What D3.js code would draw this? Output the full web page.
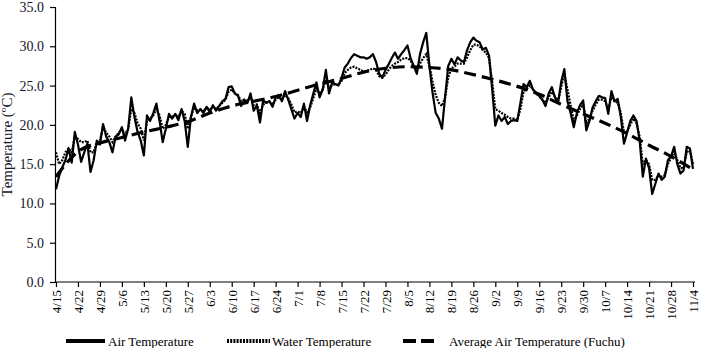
<!DOCTYPE html>
<html>
<head>
<meta charset="utf-8">
<script src="https://cdnjs.cloudflare.com/ajax/libs/d3/7.8.5/d3.min.js"></script>
<style>
  body { margin: 0; background: #fff; }
  text { font-family: "Liberation Serif", "Times New Roman", serif; fill: #000; }
</style>
</head>
<body>
<svg id="chart" width="702" height="348"></svg>
<script>
// 每週刻度標籤
var tickLabels = ["4/15","4/22","4/29","5/6","5/13","5/20","5/27","6/3","6/10","6/17","6/24",
  "7/1","7/8","7/15","7/22","7/29","8/5","8/12","8/19","8/26","9/2","9/9","9/16","9/23",
  "9/30","10/7","10/14","10/21","10/28","11/4"];

// 日平均氣溫 4/15 ~ 11/4
var airTemp = [
  11.8,13.5,14.6,15.5,17.0,15.2,19.1,17.5,15.3,16.5,17.6,14.0,15.5,18.0,17.5,20.1,
  18.5,17.8,16.5,18.5,18.8,19.7,18.0,19.5,23.5,21.0,19.1,18.0,16.1,21.2,20.5,21.5,
  22.7,20.5,17.8,19.5,21.4,20.8,21.4,20.6,22.0,20.5,17.2,21.0,22.7,21.5,22.0,21.5,
  22.3,21.6,22.5,21.8,22.4,23.0,23.3,24.8,24.9,24.0,23.7,22.4,23.2,22.8,24.0,21.8,
  22.5,20.3,23.1,22.8,23.0,22.3,23.5,23.8,23.0,24.3,23.2,22.0,20.8,21.5,21.0,22.7,
  20.5,22.5,24.0,25.4,23.5,24.5,27.0,24.0,25.4,25.2,25.0,26.0,27.3,27.8,28.5,29.0,
  28.8,28.6,28.6,28.4,28.6,29.0,28.0,26.5,26.0,27.0,27.7,28.5,29.2,28.4,29.0,29.5,
  30.1,28.5,27.5,26.5,29.0,30.5,31.7,27.5,24.1,21.5,20.8,19.5,23.5,27.5,28.4,27.7,
  28.6,28.2,28.0,29.5,30.5,31.1,30.7,30.5,29.6,29.8,28.8,24.5,19.9,21.2,20.5,21.0,
  20.1,20.5,20.6,20.5,22.8,25.2,24.8,25.6,24.5,24.1,23.7,23.2,22.4,24.0,24.8,23.5,
  22.8,25.5,27.1,23.0,21.5,19.7,21.5,22.5,23.1,19.3,20.5,22.2,23.0,23.7,23.5,23.4,
  21.4,24.3,23.0,23.3,21.0,17.6,19.0,20.5,21.2,20.5,18.0,13.4,15.7,14.5,11.2,12.5,
  13.8,13.0,13.4,15.5,16.0,17.2,15.0,13.8,14.2,17.2,17.0,14.4
];

// 日平均水溫
var waterTemp = [
  16.5,15.0,15.5,16.5,17.0,16.5,18.5,18.2,17.8,17.8,18.0,16.5,16.5,17.8,18.0,19.8,
  19.0,18.5,17.8,18.5,19.0,19.5,18.8,19.5,22.0,21.5,20.2,19.5,18.0,20.5,20.8,21.2,
  22.0,21.2,19.5,20.0,21.0,21.0,21.3,21.0,21.8,21.4,19.5,21.0,22.2,21.8,22.0,21.8,
  22.2,21.9,22.3,22.0,22.4,22.8,23.2,24.2,24.5,24.0,23.8,23.0,23.2,23.0,23.6,22.5,
  22.6,21.5,22.6,22.8,23.0,22.6,23.2,23.5,23.2,23.8,23.4,22.6,21.6,21.7,21.5,22.3,
  21.6,22.2,23.4,24.6,24.0,24.5,25.8,24.8,25.0,25.2,25.1,25.6,26.6,27.0,27.3,27.4,
  27.2,27.0,26.8,26.9,27.0,27.2,27.0,26.2,26.0,26.4,27.0,27.5,27.8,28.0,28.3,28.5,
  28.5,28.2,27.4,27.2,27.8,28.5,29.0,27.5,25.5,23.8,22.8,22.4,23.5,26.0,27.2,27.4,
  27.8,27.8,27.8,28.6,29.5,30.2,30.2,30.0,29.5,29.2,28.5,25.5,22.0,21.8,21.5,21.3,
  21.0,20.8,20.8,20.6,22.0,24.2,24.6,25.0,24.5,24.0,23.6,23.2,22.8,23.5,24.2,23.6,
  23.0,24.8,26.5,24.5,22.5,20.5,21.2,22.0,22.6,20.2,20.8,21.8,22.6,23.2,23.2,23.0,
  22.0,23.5,23.0,22.8,21.5,19.0,19.2,20.0,20.8,20.2,18.5,15.0,15.5,15.0,13.0,13.0,
  13.6,13.4,13.6,15.0,15.8,16.6,15.5,14.5,14.5,16.5,16.8,15.0
];

// 府中平年氣溫(每週)
var avgTemp = [13.4,16.6,17.7,18.4,19.1,19.7,20.4,21.5,22.4,23.0,23.6,24.4,25.2,25.9,26.7,
  27.2,27.4,27.3,27.0,26.4,25.7,24.9,23.9,22.6,21.4,20.2,18.9,17.4,16.0,14.3];

var svg = d3.select("#chart");
var mLeft = 55, mRight = 695, mTop = 7, mBottom = 282;

var x = d3.scaleLinear().domain([0, airTemp.length - 1]).range([mLeft + 1, mRight - 2]);
var y = d3.scaleLinear().domain([0, 35]).range([mBottom, mTop]);

// 軸
var yAxis = d3.axisLeft(y).tickValues(d3.range(0, 36, 5))
  .tickFormat(d3.format(".1f")).tickSizeOuter(0).tickSize(5).tickPadding(6);
svg.append("g").attr("transform", "translate(" + mLeft + ",0)").call(yAxis)
  .call(function(g) { g.selectAll("text").style("font-size", "14px").style("fill", "#14142a"); });

var xAxis = d3.axisBottom(x).tickValues(tickLabels.map(function(d, i) { return i * 7; }))
  .tickFormat(function(d, i) { return tickLabels[i]; }).tickSizeOuter(0).tickSize(5);
svg.append("g").attr("transform", "translate(0," + mBottom + ")").call(xAxis)
  .call(function(g) {
    g.select(".domain").attr("d", "M" + mLeft + ",0H" + mRight);
    g.selectAll("text")
      .style("font-size", "13px")
      .attr("text-anchor", "end")
      .attr("transform", "rotate(-90)")
      .attr("x", -8).attr("y", 0).attr("dy", "0.35em");
  });
svg.selectAll(".domain, .tick line").attr("stroke", "#000").attr("stroke-width", 1.2);

svg.append("text")
  .attr("transform", "translate(12," + (y(17.5)) + ") rotate(-90)")
  .attr("text-anchor", "middle")
  .style("font-size", "15px")
  .style("fill", "#14142a")
  .text("Temperature (ºC)");

// 線
var line = d3.line().x(function(d, i) { return x(i); }).y(function(d) { return y(d); });
var avgLine = d3.line().curve(d3.curveMonotoneX)
  .x(function(d, i) { return x(i * 7); }).y(function(d) { return y(d); });

svg.append("path").datum(avgTemp).attr("d", avgLine)
  .attr("fill", "none").attr("stroke", "#000").attr("stroke-width", 3.2)
  .attr("stroke-dasharray", "12,6");
svg.append("path").datum(waterTemp).attr("d", line)
  .attr("fill", "none").attr("stroke", "#000").attr("stroke-width", 2.2)
  .attr("stroke-dasharray", "2,1.2");
svg.append("path").datum(airTemp).attr("d", line)
  .attr("fill", "none").attr("stroke", "#000").attr("stroke-width", 2.2)
  .attr("stroke-linejoin", "round");

// 圖例
var legend = [
  {name: "Air Temperature", x1: 66, x2: 105, tx: 108, dash: null, w: 4},
  {name: "Water Temperature", x1: 227, x2: 270, tx: 272, dash: "2,1.2", w: 4},
  {name: "Average Air Temperature (Fuchu)", x1: 403, x2: 436, tx: 449, dash: "13,5", w: 4}
];
var lg = svg.selectAll(".lg").data(legend).enter().append("g").attr("class", "lg");
lg.append("line")
  .attr("x1", function(d) { return d.x1; }).attr("x2", function(d) { return d.x2; })
  .attr("y1", 341).attr("y2", 341)
  .attr("stroke", "#000").attr("stroke-width", function(d) { return d.w; })
  .attr("stroke-dasharray", function(d) { return d.dash; });
lg.append("text")
  .attr("x", function(d) { return d.tx; }).attr("y", 341).attr("dy", "0.35em")
  .style("font-size", "13px")
  .text(function(d) { return d.name; });
</script>
</body>
</html>
